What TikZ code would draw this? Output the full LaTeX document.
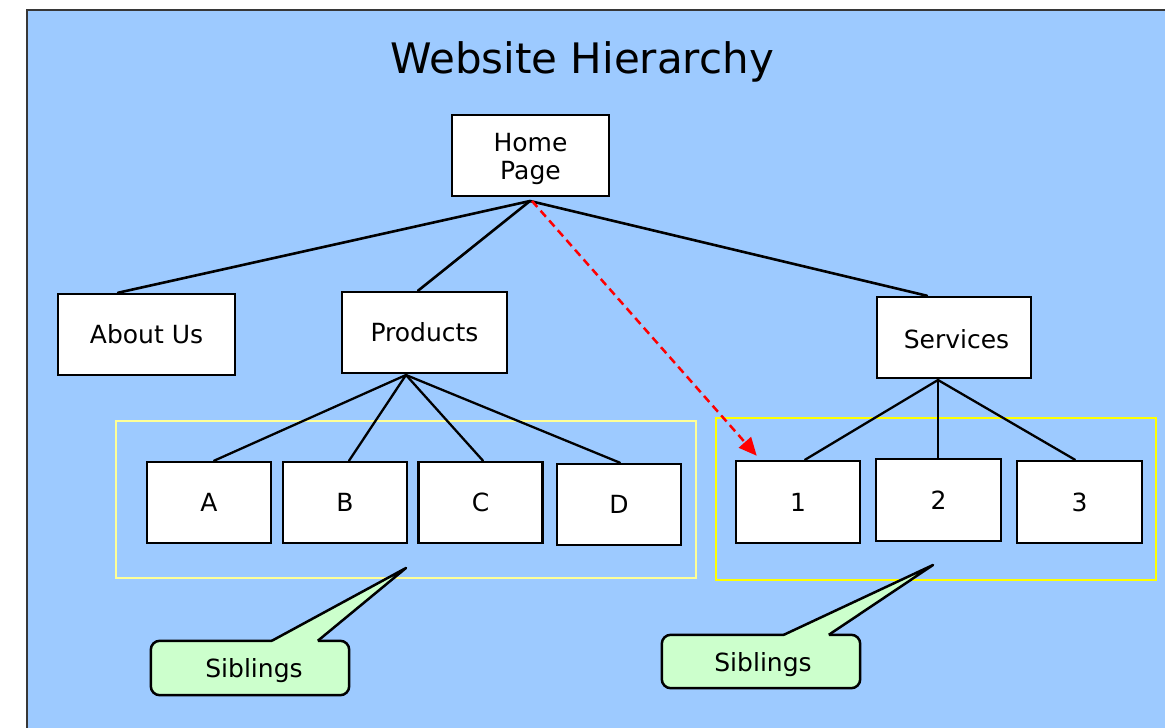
\documentclass[tikz,border=0pt]{standalone}
\usepackage{fontspec}
\setmainfont{DejaVu Sans}
\usetikzlibrary{arrows.meta,calc}

\definecolor{skyback}{RGB}{157,202,255}
\definecolor{mintfill}{RGB}{204,255,204}
\definecolor{paleyellow}{RGB}{255,255,150}
\definecolor{brightyellow}{RGB}{255,255,0}
\definecolor{framegray}{RGB}{55,55,55}
\definecolor{linkred}{RGB}{255,0,0}

% lower a label inside its node while keeping the node's own size
\newcommand{\droplabel}[2]{\raisebox{-#1}[\height][\depth]{#2}}

\begin{document}
\begin{tikzpicture}[x=1pt,y=-1pt,
  pagebox/.style={draw=black,line width=2.5pt,fill=white,inner sep=0pt,
    font=\fontsize{25}{28}\selectfont,align=center,
    minimum width=#1},
  pagebox/.default=124pt,
  link/.style={draw=black,line width=2.6pt,line cap=round},
  sublink/.style={draw=black,line width=2.3pt,line cap=round},
  jumplink/.style={draw=linkred,line width=2.5pt,dash pattern=on 8pt off 5pt,
    -{Triangle[length=18pt,width=16pt]}},
  sibbody/.style={fill=mintfill,rounded corners=9pt,inner sep=0pt,
    minimum width=198pt,minimum height=54pt,
    font=\fontsize{25}{28}\selectfont},
  sibline/.style={draw=black,line width=2.5pt,line join=round}
]
\useasboundingbox (0,0) rectangle (1165,728);

% backdrop with its frame on the top and left
\fill[skyback] (27,10) rectangle (1165,728);
\draw[framegray,line width=2.8pt] (27,728) -- (27,10) -- (1165,10);

% title
\node[font=\fontsize{42}{50}\selectfont,anchor=base,inner sep=0pt] (title)
  at (582,73) {Website Hierarchy};

% sibling group frames
\draw[paleyellow,line width=1.6pt] (116,421) rectangle (696,578);
\draw[brightyellow,line width=2.6pt] (716,418) rectangle (1156,580);

% pages
\node[pagebox=157pt,minimum height=81pt] (home) at (530.5,155.5)
  {\droplabel{4pt}{\begin{tabular}{@{}c@{}}Home\\Page\end{tabular}}};
\node[pagebox=177pt,minimum height=81pt] (about) at (146.5,334.5) {About Us};
\node[pagebox=165pt,minimum height=81pt] (prod) at (424.5,332.5) {Products};
\node[pagebox=154pt,minimum height=81pt] (serv) at (954,337.5) {\droplabel{2pt}{\hspace*{5pt}Services}};

\node[pagebox,minimum height=81pt] (pa) at (209,502.5) {A};
\node[pagebox,minimum height=81pt] (pb) at (345,502.5) {B};
\node[pagebox,minimum height=81pt] (pc) at (480.5,502.5) {C};
\node[pagebox,minimum height=81pt] (pd) at (619,504.5) {D};

\node[pagebox,minimum height=82pt] (one) at (798,502) {1};
\node[pagebox=125pt,minimum height=82pt] (two) at (938.5,500) {2};
\node[pagebox=125pt,minimum height=82pt] (three) at (1079.5,502) {3};

% branch points just below each parent
\coordinate (homefork) at (530,201);
\coordinate (prodfork) at (406,375);
\coordinate (servfork) at (938,380);

% tree links
\draw[link] (homefork) -- ([xshift=-28.5pt]about.north);
\draw[link] (homefork) -- ([xshift=-6.5pt]prod.north);
\draw[link] (homefork) -- ([xshift=-27pt]serv.north);

\draw[sublink] (prodfork) -- ([xshift=5pt]pa.north);
\draw[sublink] (prodfork) -- ([xshift=4pt]pb.north);
\draw[sublink] (prodfork) -- ([xshift=2.5pt]pc.north);
\draw[sublink] (prodfork) -- ([xshift=1pt]pd.north);

\draw[sublink] (servfork) -- ([xshift=7pt]one.north);
\draw[sublink] (servfork) -- ([xshift=-0.5pt]two.north);
\draw[sublink] (servfork) -- ([xshift=-4.5pt]three.north);

% direct jump from the home page to page 1
\draw[jumplink] ([xshift=2pt]homefork) -- ([shift={(22,-4)}]one.north west);

% callouts
\node[sibbody] (sibL) at (250,668) {\droplabel{3pt}{\hspace*{8pt}Siblings}};
\coordinate (sibLtip) at (406,568);
\fill[mintfill] ($(sibL.north west)+(121,2)$) -- ($(sibL.north west)+(121,0)$)
  -- (sibLtip) -- ($(sibL.north west)+(167,0)$) -- ($(sibL.north west)+(167,2)$) -- cycle;
\draw[sibline,rounded corners=9pt] ($(sibL.north west)+(121,0)$) -- (sibL.north west)
  -- (sibL.south west) -- (sibL.south east) -- (sibL.north east)
  -- ($(sibL.north west)+(167,0)$);
\draw[sibline] ($(sibL.north west)+(121,0)$) -- (sibLtip) -- ($(sibL.north west)+(167,0)$);

\node[sibbody,minimum height=53pt] (sibR) at (761,661.5) {\droplabel{3pt}{\hspace*{4pt}Siblings}};
\coordinate (sibRtip) at (933,565);
\fill[mintfill] ($(sibR.north west)+(122,2)$) -- ($(sibR.north west)+(122,0)$)
  -- (sibRtip) -- ($(sibR.north west)+(167,0)$) -- ($(sibR.north west)+(167,2)$) -- cycle;
\draw[sibline,rounded corners=9pt] ($(sibR.north west)+(122,0)$) -- (sibR.north west)
  -- (sibR.south west) -- (sibR.south east) -- (sibR.north east)
  -- ($(sibR.north west)+(167,0)$);
\draw[sibline] ($(sibR.north west)+(122,0)$) -- (sibRtip) -- ($(sibR.north west)+(167,0)$);
\end{tikzpicture}
\end{document}
